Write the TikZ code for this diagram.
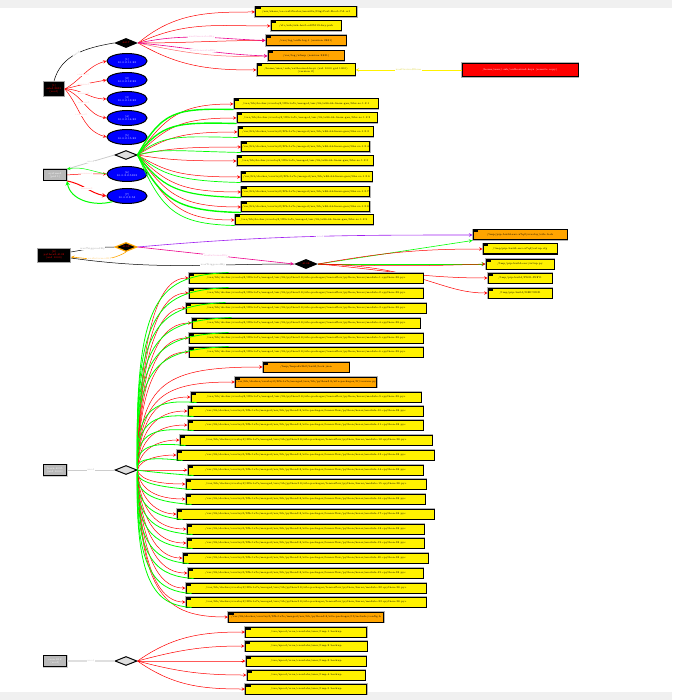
\documentclass[tikz,border=0pt]{standalone}
\usepackage{tikz}
\usetikzlibrary{shapes.geometric}

\definecolor{gvorange}{HTML}{FFA500}
\definecolor{gvpurple}{HTML}{A020F0}
\definecolor{gvgreen}{HTML}{00FF00}

\newcommand\dockpath{/var/lib/docker/overlay2/3f9c1a7e/merged/usr/lib}

\tikzset{
  tinytext/.style={font=\fontsize{2.6}{3}\selectfont},
  proc/.style={rectangle,fill=black,draw=gray!70,line width=0.8pt,text=red,align=center,tinytext,inner sep=1pt},
  gproc/.style={rectangle,fill=gray!55,draw=black,line width=1pt,text=white,align=center,tinytext,inner sep=1pt,
    minimum width=23pt,minimum height=11pt,preaction={draw=gray!40,line width=2pt}},
  bdiam/.style={diamond,fill=black,text=red,tinytext,inner sep=0pt,minimum width=24pt,minimum height=10pt},
  gdiam/.style={diamond,fill=gray!25,draw=black,line width=1pt,tinytext,inner sep=0pt,minimum width=22pt,minimum height=9pt},
  sock/.style={ellipse,fill=blue,draw=black,line width=1pt,text=white,align=center,tinytext,inner sep=0pt,
    minimum width=40pt,minimum height=15pt},
  art/.style={rectangle,draw=black,line width=1pt,preaction={draw=gray!60,line width=2.2pt},inner sep=0.5pt,
    minimum height=10pt,tinytext,align=center,
    path picture={\fill[black] (path picture bounding box.north west) rectangle ++(5,-2.5);}},
  elab/.style={tinytext,fill=white,inner sep=0.3pt},
  redge/.style={->,red,line width=0.5pt},
  gedge/.style={gvgreen,line width=0.8pt},
}

\begin{document}
\begin{tikzpicture}[>=stealth,x=1pt,y=1pt]
  \useasboundingbox (0,0) rectangle (672,-700);
  \fill[gray!12] (0,0) rectangle (672,-8);
  \fill[gray!12] (0,-692) rectangle (672,-700);

  % first process and its sockets
  \node[proc,minimum width=21pt,minimum height=15pt] (a1) at (54,-89) {[1]\\sshd:2831\\(root)};
  \node[bdiam] (d1) at (126,-43) {4417};
  \foreach \i/\y in {1/61,2/80,3/99,4/118,5/137}
    \node[sock] (s\i) at (127,-\y) {[\i]\\10.0.2.1\i:22};
  \node[art,fill=yellow,minimum width=101pt] (f1) at (306,-12) {/usr/share/ca-certificates/mozilla/DigiCert-Root-CA.crt};
  \node[art,fill=yellow,minimum width=70pt] (f2) at (306,-26) {/etc/ssh/ssh-host-ed25519-key.pub};
  \node[art,fill=gvorange,minimum width=80pt] (f3) at (306,-40.5) {/var/log/auth.log.1 (session 2831)};
  \node[art,fill=gvorange,minimum width=76pt] (f4) at (306,-56) {/var/log/wtmp (session 2831)};
  \node[art,fill=yellow,minimum width=98pt,minimum height=12pt] (f5) at (306,-70) {/home/user/.ssh/authorized-keys (uid 1000 gid 1000)\\(version 2)};
  \node[rectangle,fill=red,draw=black,line width=1pt,preaction={draw=gray!60,line width=2.2pt},text=white,tinytext,
    minimum width=116pt,minimum height=13pt] (r1) at (520,-70) {/home/user/.ssh/authorized-keys (remote copy)};

  \draw[black,line width=0.5pt] (a1.north) to[out=75,in=190] node[elab,text=gray!70,sloped]{used} (d1.west);
  \foreach \i/\o/\n in {1/30/195,2/15/190,3/0/180,4/-20/170,5/-50/165}
    \draw[redge] (a1.east) to[out=\o,in=\n] node[elab,text=red!25,pos=0.45]{connect} (s\i.west);
  \foreach \j/\o in {1/40,2/25,5/-30}
    \draw[redge] (d1.east) to[out=\o,in=180] (f\j.west);
  \draw[redge] (d1.east) to[out=0,in=180] (f3.west);
  \draw[->,magenta,line width=0.6pt] (d1.east) to[out=12,in=178] node[elab,text=magenta!35]{wasGeneratedBy} (f3.west);
  \draw[redge,red!60] (d1.east) to[out=-12,in=182] (f4.west);
  \draw[->,magenta,line width=0.6pt] (d1.east) to[out=-5,in=178] node[elab,text=magenta!35]{wasGeneratedBy} (f4.west);
  \draw[->,yellow,line width=0.6pt] (r1.west) -- node[elab,text=yellow!70!gray]{wasDerivedFrom} (f5.east);

  % second process
  \node[gproc] (b2) at (55,-175) {systemd\\(pid 1)};
  \node[gdiam] (d2) at (126,-155) {};
  \node[sock] (s6) at (127,-174) {[6]\\10.0.2.2:5353};
  \node[sock] (s7) at (127,-196) {[7]\\10.0.2.3:53};
  \foreach \i/\y/\l/\r in {1/104/234/378,2/118/237/377,3/132/238/373,4/147/243/368,5/161/237/373,
                           6/177/241/372,7/192/243/368,8/207/248/363,9/220/235/373}
    \node[art,fill=yellow,minimum width=\r-\l] (g\i) at ({(\l+\r)/2},-\y) {\dockpath/x86-64-linux-gnu/libz.so.1.2.\i};

  \draw[gray!40,line width=0.8pt] (b2.north east) -- node[elab,text=gray!50]{used} (d2.west);
  \draw[redge] (b2.east) to[out=5,in=180] node[elab,text=red!25]{connect} (s6.west);
  \draw[->,gvgreen,line width=0.5pt] (s6.west) to[out=170,in=10] (b2.north east);
  \draw[redge,line width=1pt] (b2.south east) to[out=-10,in=170] node[elab,text=red!25]{connect} (s7.west);
  \draw[->,gvgreen,line width=1pt] (s7.south west) to[out=195,in=-80] (b2.south east);
  \foreach \i/\y in {1/104,2/118,3/132,4/147,5/161,6/177,7/192,8/207,9/220}
    \draw[redge] (d2.east) .. controls (166,{-155-0.75*(\y-155)}) and (180,-\y) .. (g\i.west);
  \foreach \i/\y/\w in {1/104/1.4,2/118/1.4,3/132/0.7,4/147/0.7,6/177/0.7,7/192/1.2,8/207/1.4,9/220/0.7}
    \draw[gvgreen,line width=\w pt] (d2.east) .. controls (162,{-155-0.85*(\y-155)}) and (175,{-\y-4}) .. (g\i.south west);

  % third process
  \node[proc,minimum width=33pt,minimum height=14pt] (c3) at (54,-255) {[8]\\python3:4102\\(uid 1000)};
  \node[bdiam,draw=gvorange,line width=1.2pt,minimum width=22pt,minimum height=9pt] (d3) at (126,-247) {4102};
  \node[bdiam] (e3) at (306,-264) {4108};
  \node[art,fill=gvorange,minimum width=94pt] (o3) at (520,-235) {/tmp/pip-build-env-x7q2/overlay/site.lock};
  \node[art,fill=yellow,minimum width=74pt] (h1) at (520,-249) {/tmp/pip-build-env-x7q2/setup.cfg};
  \node[art,fill=yellow,minimum width=68pt] (h2) at (520,-264) {/tmp/pip-build-env/setup.py};
  \node[art,fill=yellow,minimum width=64pt] (h3) at (520,-278) {/tmp/pip-build/PKG-INFO};
  \node[art,fill=yellow,minimum width=64pt] (h4) at (520,-293) {/tmp/pip-build/RECORD};

  \draw[black,line width=0.5pt] ([yshift=3pt]c3.east) to[out=10,in=180] node[elab,text=gray!70]{wasTriggeredBy} (d3.west);
  \draw[->,gvorange,line width=0.6pt] (d3.south) to[out=-150,in=-5] node[elab,text=gvorange!50]{wasInformedBy} ([yshift=-2pt]c3.east);
  \draw[black,line width=0.5pt] ([yshift=-3pt]c3.east) to[out=-8,in=180] node[elab,text=gray!70,pos=0.65]{wasTriggeredBy} (e3.west);
  \draw[->,gvpurple,line width=0.6pt] (d3.east) to[out=5,in=180] node[elab,text=gvpurple!45,pos=0.55]{used} (o3.west);
  \draw[->,magenta,line width=0.6pt] (d3.east) -- node[elab,text=magenta!35]{wasInformedBy} (e3.west);
  \draw[->,gvgreen,line width=0.6pt] (e3.east) -- (o3.south west);
  \draw[redge] (e3.east) to[out=10,in=180] (h1.west);
  \draw[->,gvgreen,line width=0.8pt] (e3.east) -- (h2.west);
  \draw[redge] (e3.east) to[out=-2,in=182] (h2.west);
  \draw[redge] (e3.east) to[out=-5,in=180] (h3.west);
  \draw[redge] (e3.east) .. controls (420,-266) and (440,-293) .. (h4.west);

  % fourth process
  \node[gproc] (e4) at (55,-470) {bash:4095\\(uid 1000)};
  \node[gdiam] (d4) at (126,-470) {};
  \foreach \i/\y/\l/\r in {1/278/189/423,2/293/189/423,3/308/186/426,4/323/192/420,5/338/189/423,
                           6/352/189/423,9/397/191/421,10/411/188/423,11/425/188/423,12/440/180/432,
                           13/455/177/434,14/470/188/423,15/484/186/426,16/499/186/425,17/514/177/434,
                           18/529/187/424,19/543/187/424,20/558/183/428,21/573/188/423,22/588/186/426,
                           23/602/186/426}
    \node[art,fill=yellow,minimum width=\r-\l] (k\i) at ({(\l+\r)/2},-\y)
      {\dockpath/python3.8/site-packages/tensorflow/python/keras/module-\i.cpython-38.pyc};
  \node[art,fill=gvorange,minimum width=86pt] (k7) at (306,-367) {/tmp/tmpa8v3k2/build/lock.json};
  \node[art,fill=gvorange,minimum width=141pt] (k8) at (306,-382) {\dockpath/python3.8/site-packages/tf/version.py};
  \node[art,fill=gvorange,minimum width=155pt] (k24) at (306,-617) {\dockpath/python3.8/site-packages/tf/include/config.h};

  \draw[gray!40,line width=0.8pt] (e4.east) -- node[elab,text=gray!50]{used} (d4.west);
  \foreach \i/\y in {1/278,2/293,3/308,4/323,5/338,6/352,7/367,8/382,9/397,10/411,11/425,12/440,
                     13/455,14/470,15/484,16/499,17/514,18/529,19/543,20/558,21/573,22/588,23/602,24/617}
    \draw[redge] (d4.east) .. controls (140,{-470-0.85*(\y-470)}) and (165,-\y) .. (k\i.west);
  \foreach \i/\y in {1/278,2/293,3/308,4/323,5/338,6/352}
    \draw[gedge] (d4.east) .. controls (134,{-470-0.92*(\y-470)}) and (160,{-\y+2}) .. ([xshift=40pt]k\i.north west);
  \foreach \i/\y in {9/397,10/411,11/425,12/440,13/455,14/470,15/484,16/499,17/514,18/529,
                     19/543,20/558,21/573,22/588,23/602}
    \draw[gedge] (d4.east) .. controls (134,{-470-0.92*(\y-470)}) and (160,{-\y-3}) .. ([xshift=6pt]k\i.south west);

  % fifth process
  \node[gproc] (e5) at (55,-661) {cron:812\\(root)};
  \node[gdiam] (d5) at (126,-661) {};
  \foreach \i/\y/\w in {1/632/121,2/646/122,3/661/120,4/675/118,5/689/121}
    \node[art,fill=yellow,minimum width=\w pt] (m\i) at (306,-\y) {/var/spool/cron/crontabs/user/tmp.\i.backup};
  \draw[gray!25,line width=1.5pt] (e5.east) -- node[elab,text=gray!40]{used} (d5.west);
  \foreach \i/\o in {1/35,2/15,3/0,4/-15,5/-35}
    \draw[redge] (d5.east) to[out=\o,in=180] (m\i.west);
\end{tikzpicture}
\end{document}
